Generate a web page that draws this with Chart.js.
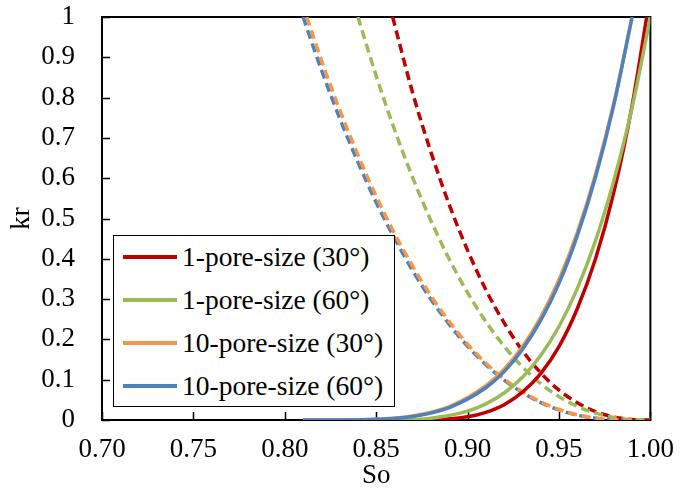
<!DOCTYPE html>
<html>
<head>
<meta charset="utf-8">
<script src="https://cdn.jsdelivr.net/npm/chart.js@4.4.1/dist/chart.umd.min.js"></script>
<style>
  html, body { margin: 0; padding: 0; background: #fff; }
  #wrap { position: relative; width: 680px; height: 496px; }
  #legenda {
    position: absolute; left: 113px; top: 235px; width: 282px; height: 172px;
    border: 1.5px solid #000; background: #fff; box-sizing: border-box;
    font-family: "Liberation Serif", "Times New Roman", serif; font-size: 27.5px; color: #000;
  }
  .item { position: absolute; left: 9px; height: 30px; display: flex; align-items: center; white-space: nowrap; }
  .item .traco { width: 54px; height: 4px; margin-right: 5px; }
</style>
</head>
<body>
<div id="wrap">
  <canvas id="graficoKr" width="680" height="496"></canvas>
  <div id="legenda"></div>
</div>
<script>
  const nomes = ['1-pore-size (30°)', '1-pore-size (60°)', '10-pore-size (30°)', '10-pore-size (60°)'];
  const cores = ['#C00000', '#9BBB59', '#F79646', '#4F81BD'];

  const xTicks = [0.70, 0.75, 0.80, 0.85, 0.90, 0.95, 1.00];
  const yTicks = [0, 0.1, 0.2, 0.3, 0.4, 0.5, 0.6, 0.7, 0.8, 0.9, 1];

  // kr crescente com So (linha cheia)
  const soRed = [0.86, 0.88, 0.90, 0.91, 0.92, 0.93, 0.94, 0.95, 0.96, 0.97, 0.98, 0.99, 0.998];
  const krRed = [0, 0.0005, 0.008, 0.019, 0.038, 0.069, 0.115, 0.182, 0.276, 0.400, 0.565, 0.780, 1];

  const soGreen = [0.84, 0.86, 0.88, 0.90, 0.91, 0.92, 0.93, 0.94, 0.95, 0.96, 0.97, 0.98, 0.99, 1.00];
  const krGreen = [0, 0.0003, 0.0045, 0.022, 0.040, 0.067, 0.106, 0.160, 0.232, 0.326, 0.445, 0.594, 0.775, 1];

  const soOrange = [0.81, 0.83, 0.85, 0.87, 0.89, 0.91, 0.92, 0.93, 0.94, 0.95, 0.96, 0.97, 0.98, 0.99];
  const krOrange = [0, 0.0001, 0.0018, 0.0099, 0.033, 0.085, 0.126, 0.182, 0.255, 0.348, 0.465, 0.610, 0.786, 1];

  const soBlue = [0.81, 0.83, 0.85, 0.87, 0.89, 0.91, 0.92, 0.93, 0.94, 0.95, 0.96, 0.97, 0.98, 0.99];
  const krBlue = [0, 0.0001, 0.0016, 0.0089, 0.031, 0.080, 0.120, 0.175, 0.247, 0.339, 0.457, 0.603, 0.782, 1];

  // kr decrescente com So (tracejado)
  const soRedD = [0.859, 0.87, 0.88, 0.89, 0.90, 0.91, 0.92, 0.93, 0.94, 0.95, 0.96, 0.97, 0.98, 0.99, 1.00];
  const krRedD = [1, 0.811, 0.664, 0.534, 0.421, 0.323, 0.241, 0.172, 0.117, 0.074, 0.043, 0.021, 0.0075, 0.0013, 0];

  const soGreenD = [0.84, 0.85, 0.86, 0.87, 0.88, 0.89, 0.90, 0.91, 0.92, 0.93, 0.94, 0.95, 0.96, 0.97, 0.98, 0.99, 1.00];
  const krGreenD = [1, 0.854, 0.721, 0.601, 0.494, 0.399, 0.316, 0.244, 0.183, 0.132, 0.090, 0.058, 0.034, 0.017, 0.006, 0.001, 0];

  const soOrangeD = [0.812, 0.82, 0.83, 0.84, 0.85, 0.86, 0.87, 0.88, 0.89, 0.90, 0.91, 0.92, 0.93, 0.94, 0.95, 0.96, 0.97, 0.98, 0.99];
  const krOrangeD = [1, 0.893, 0.770, 0.658, 0.555, 0.463, 0.381, 0.308, 0.244, 0.188, 0.141, 0.102, 0.070, 0.045, 0.026, 0.013, 0.0047, 0.0009, 0];

  const soBlueD = [0.81, 0.82, 0.83, 0.84, 0.85, 0.86, 0.87, 0.88, 0.89, 0.90, 0.91, 0.92, 0.93, 0.94, 0.95, 0.96, 0.97, 0.98, 0.99];
  const krBlueD = [1, 0.869, 0.749, 0.640, 0.540, 0.451, 0.370, 0.299, 0.237, 0.183, 0.137, 0.099, 0.068, 0.043, 0.025, 0.012, 0.0046, 0.0008, 0];

  const fonte = { family: '"Liberation Serif", "Times New Roman", serif', size: 27 };

  function serie(label, so, kr, cor, tracejado, ordem) {
    return {
      label: label,
      data: so.map((s, i) => ({ x: s, y: kr[i] })),
      borderColor: cor,
      borderWidth: 3.5,
      borderDash: tracejado ? [9, 5] : [],
      pointRadius: 0,
      fill: false,
      cubicInterpolationMode: 'monotone',
      order: ordem,
    };
  }

  // moldura da área do gráfico e ticks para dentro
  const moldura = {
    id: 'moldura',
    beforeDatasetsDraw(chart) {
      const { ctx, chartArea: a, scales: { x, y } } = chart;
      ctx.save();
      ctx.strokeStyle = '#000';
      ctx.lineWidth = 1.5;
      ctx.beginPath();
      xTicks.forEach(v => {
        const px = Math.round(x.getPixelForValue(v)) + 0.5;
        ctx.moveTo(px, a.bottom);
        ctx.lineTo(px, a.bottom - 8);
      });
      yTicks.forEach(v => {
        const py = Math.round(y.getPixelForValue(v)) + 0.5;
        ctx.moveTo(a.left, py);
        ctx.lineTo(a.left + 8, py);
      });
      ctx.stroke();
      ctx.lineWidth = 2;
      ctx.strokeRect(a.left, a.top, a.right - a.left, a.bottom - a.top);
      ctx.restore();
    }
  };

  const ctxKr = document.getElementById('graficoKr').getContext('2d');
  new Chart(ctxKr, {
    type: 'line',
    data: {
      datasets: [
        serie(nomes[3], soBlue, krBlue, cores[3], false, 0),
        serie(nomes[2], soOrange, krOrange, cores[2], false, 1),
        serie(nomes[1], soGreen, krGreen, cores[1], false, 2),
        serie(nomes[0], soRed, krRed, cores[0], false, 3),
        serie(nomes[2], soOrangeD, krOrangeD, cores[2], true, 4),
        serie(nomes[3], soBlueD, krBlueD, cores[3], true, 5),
        serie(nomes[1], soGreenD, krGreenD, cores[1], true, 6),
        serie(nomes[0], soRedD, krRedD, cores[0], true, 7),
      ],
    },
    options: {
      responsive: false,
      animation: false,
      devicePixelRatio: 1,
      layout: { padding: { top: 17, right: 27, left: 0, bottom: 0 } },
      plugins: {
        legend: { display: false },
        tooltip: { enabled: false },
      },
      scales: {
        x: {
          type: 'linear',
          min: 0.7,
          max: 1.0,
          grid: { display: false },
          border: { display: false },
          afterBuildTicks: (scale) => { scale.ticks = xTicks.map(v => ({ value: v })); },
          afterFit: (scale) => { scale.height = 76; },
          ticks: {
            padding: 6,
            color: '#000',
            font: fonte,
            maxRotation: 0,
            callback: (v) => Number(v).toFixed(2),
          },
          title: { display: true, text: 'So', color: '#000', font: fonte, padding: { top: 0, bottom: 4 } },
        },
        y: {
          min: 0,
          max: 1,
          grid: { display: false },
          border: { display: false },
          afterBuildTicks: (scale) => { scale.ticks = yTicks.map(v => ({ value: v })); },
          afterFit: (scale) => {
            scale.width = 102;
            scale.paddingTop = 0;
            scale.paddingBottom = 0;
          },
          ticks: {
            padding: 19,
            color: '#000',
            font: fonte,
            callback: (v) => String(v),
          },
          title: { display: true, text: 'kr', color: '#000', font: fonte, padding: { top: 6, bottom: 0 } },
        },
      },
    },
    plugins: [moldura],
  });

  // legenda dentro da área do gráfico
  const legenda = document.getElementById('legenda');
  const linhas = [21, 64, 107, 150];
  nomes.forEach((nome, i) => {
    const item = document.createElement('div');
    item.className = 'item';
    item.style.top = (linhas[i] - 15) + 'px';
    item.innerHTML = '<span class="traco" style="background:' + cores[i] + '"></span><span>' + nome + '</span>';
    legenda.appendChild(item);
  });
</script>
</body>
</html>
